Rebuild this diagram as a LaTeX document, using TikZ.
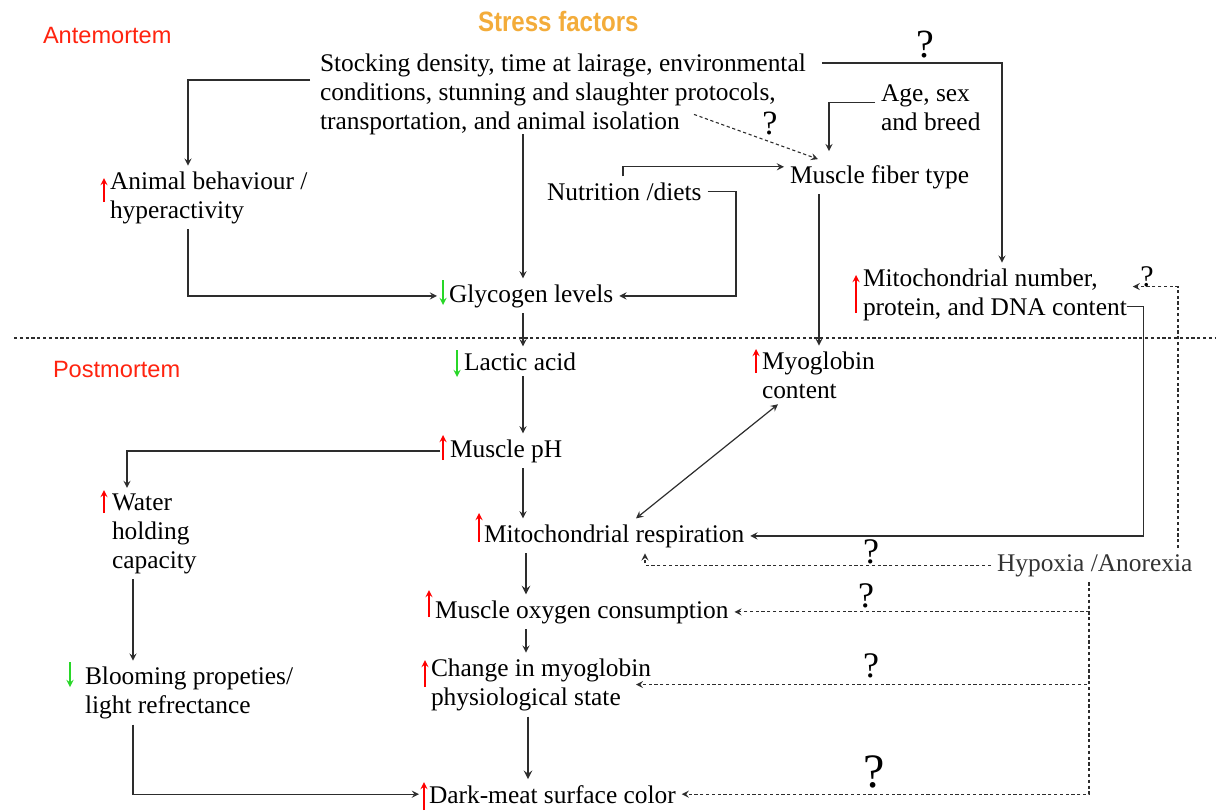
\documentclass[tikz,border=0pt]{standalone}
\usepackage{fontspec}
\setmainfont{Liberation Serif}
\newfontfamily\phasefont{Liberation Sans}
\newfontfamily\titlefont[FakeStretch=0.86]{Liberation Sans}
\usetikzlibrary{calc}

\definecolor{stressorange}{RGB}{243,172,58}
\definecolor{phasered}{RGB}{255,35,15}
\definecolor{upred}{RGB}{255,0,0}
\definecolor{downgreen}{RGB}{40,215,40}
\definecolor{linegray}{RGB}{45,45,45}

% text nodes are placed at the baseline of their last line
\tikzstyle{txt}=[inner sep=0pt,outer sep=3pt,anchor=text,align=left,
font=\fontsize{12.7}{14.35}\selectfont]
\tikzstyle{phase}=[inner sep=0pt,anchor=text,text=phasered,
font=\phasefont\fontsize{11.8}{14}\selectfont]
\tikzstyle{qmark}=[inner sep=0pt]
\tikzstyle{line}=[draw,color=linegray,line width=0.6pt,-stealth]
\tikzstyle{thickline}=[line,line width=0.9pt]
\tikzstyle{dotline}=[line,line width=0.55pt,dash pattern=on 1.6pt off 1.3pt]
\tikzstyle{upmark}=[draw=upred,line width=0.6pt,-stealth]
\tikzstyle{downmark}=[draw=downgreen,line width=0.6pt,-stealth]

\begin{document}
\begin{tikzpicture}[x=0.5pt,y=-0.5pt]
\useasboundingbox (0,0) rectangle (1224,810);

% headings
\node [text=stressorange,font=\titlefont\bfseries\fontsize{14}{16}\selectfont,inner sep=0pt,anchor=text] (title) at (478,31) {Stress factors};
\node [phase] (ante) at (43,43) {Antemortem};
\node [phase] (post) at (53,377) {Postmortem};
\draw [linegray,dash pattern=on 1.6pt off 1.3pt,line width=0.55pt] (14,338) -- (1216,338);

% antemortem
\node [txt] (stress) at (320,129) {Stocking density, time at lairage, environmental\\conditions, stunning and slaughter protocols,\\transportation, and animal isolation};
\node [txt] (animal) at (110,218) {Animal behaviour /\\hyperactivity};
\node [txt] (nutrition) at (547,200) {Nutrition /diets};
\node [txt] (fiber) at (790,183) {Muscle fiber type};
\node [txt] (age) at (881,130) {Age, sex\\and breed};
\node [txt] (glycogen) at (449,302) {Glycogen levels};
\node [txt] (mito) at (863,315) {Mitochondrial number,\\protein, and DNA content};

% postmortem
\node [txt] (lactic) at (464,370) {Lactic acid};
\node [txt] (myo) at (762,398) {Myoglobin\\content};
\node [txt] (ph) at (450,457) {Muscle pH};
\node [txt] (water) at (112,568) {Water\\holding\\capacity};
\node [txt] (resp) at (484,542) {Mitochondrial respiration};
\node [txt,text=black!80] (hypoxia) at (997,571) {Hypoxia /Anorexia};
\node [txt] (oxygen) at (435,618) {Muscle oxygen consumption};
\node [txt] (change) at (431,705) {Change in myoglobin\\physiological state};
\node [txt] (blooming) at (85,713) {Blooming propeties/\\light refrectance};
\node [txt] (dark) at (429,803) {Dark-meat surface color};

% question marks
\node [qmark,font=\fontsize{20}{20}\selectfont] (q1) at (925,45) {?};
\node [qmark,font=\fontsize{17}{17}\selectfont] (q2) at (770,123) {?};
\node [qmark,font=\fontsize{15}{15}\selectfont] (q3) at (1147,277) {?};
\node [qmark,font=\fontsize{18}{18}\selectfont] (q4) at (871,552) {?};
\node [qmark,font=\fontsize{18}{18}\selectfont] (q5) at (866,596) {?};
\node [qmark,font=\fontsize{18}{18}\selectfont] (q6) at (871,666) {?};
\node [qmark,font=\fontsize{24}{24}\selectfont] (q7) at (874,772) {?};

% increase / decrease marks
\draw [upmark] (104,202) -- (104,178);
\draw [downmark] (443,280) -- (443,305);
\draw [upmark] (856,313) -- (856,275);
\draw [downmark] (457,350) -- (457,377);
\draw [upmark] (756,373) -- (756,349);
\draw [upmark] (443,460) -- (443,435);
\draw [upmark] (104,513) -- (104,490);
\draw [upmark] (479,542) -- (479,513);
\draw [upmark] (429,617) -- (429,590);
\draw [upmark] (425,687) -- (425,660);
\draw [downmark] (70,662) -- (70,687);
\draw [upmark] (424,810) -- (424,782);

% connectors
\path [line,shorten <=2pt] (stress.west |- 0,80) -| (animal.north -| 188,0);
\path [line,shorten <=-3pt] (stress.south -| 523,0) -- (glycogen.north -| 523,0);
\path [line,shorten >=3pt] (animal.south -| 188,0) |- (glycogen.west);
\path [line] (nutrition.north -| 623,0) |- ($(fiber.west)+(0,-10)$);
\path [line] (nutrition.east) -- (nutrition.east -| 736,0) |- (glycogen.east);
\path [dotline] ($(stress.south west)+(380,-26)$) -- (fiber.north -| 818,0);
\path [line,shorten >=4pt] ($(age.west)+(0,-5)$) -| (fiber.north -| 829,0);
\path [line,shorten <=5pt] (stress.east |- 0,63) -| (mito.north -| 1002,0);
\path [line] (fiber.south -| 819,0) -- (myo.north -| 819,0);
\path [line] (glycogen.south -| 523,0) -- (lactic.north -| 523,0);
\path [line] (lactic.south -| 523,0) -- (ph.north -| 523,0);
\path [line,shorten <=2pt] (ph.west) -| (water.north -| 127,0);
\path [line] (ph.south -| 523,0) -- (resp.north -| 523,0);
\path [line,stealth-stealth] (myo.south -| 778,0) -- (resp.north -| 636,0);
\path [line] ($(mito.south east)+(-6,-20)$) -- ++(17,0) |- (resp.east);
\path [dotline] (hypoxia.north -| 1178,0) |- ($(mito.east)+(0,-8)$);
\path [dotline] (hypoxia.west) -| (resp.south -| 645,0);
\path [dotline] (hypoxia.south -| 1089,0) |- (oxygen.east);
\path [dotline] (hypoxia.south -| 1089,0) |- (change.center -| 636,0);
\path [dotline] (hypoxia.south -| 1089,0) |- (dark.east);
\path [thickline] (resp.south -| 526,0) -- (oxygen.north -| 526,0);
\path [line] (oxygen.south -| 526,0) -- (change.north -| 526,0);
\path [thickline] (change.south -| 528,0) -- (dark.north -| 528,0);
\path [line] (water.south -| 133,0) -- (blooming.north -| 133,0);
\path [line,shorten >=2pt] (blooming.south -| 133,0) |- (dark.west);
\end{tikzpicture}
\end{document}
